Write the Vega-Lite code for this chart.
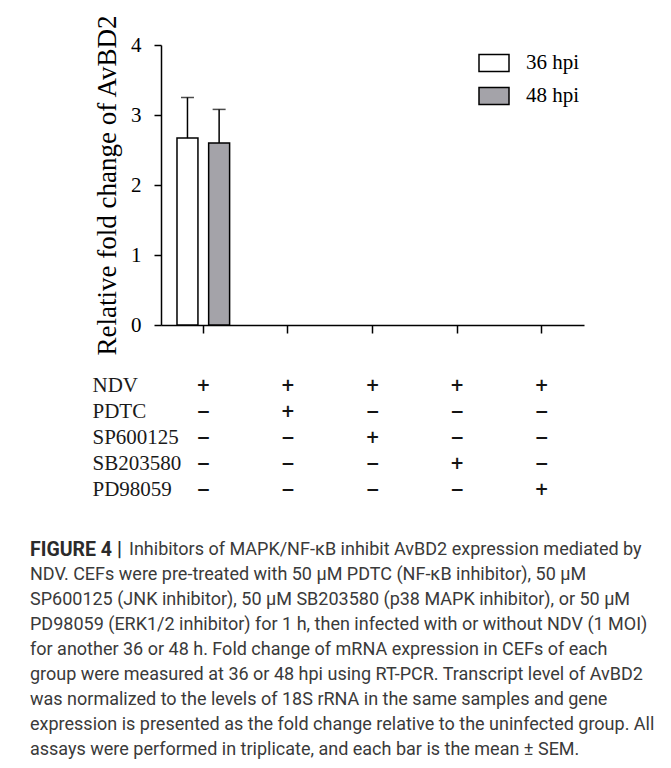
{
  "$schema": "https://vega.github.io/schema/vega-lite/v6.json",
  "padding": {"left": 30, "top": 0, "right": 0, "bottom": 0},
  "spacing": 0,
  "background": "white",
  "config": {"view": {"stroke": null}},
  "resolve": {"scale": {"fill": "independent", "x": "independent", "y": "independent"}, "legend": {"fill": "independent"}},
  "datasets": {
    "bars": [
      {"group": "NDV", "time": "36 hpi", "mean": 2.67, "upper": 3.25},
      {"group": "NDV", "time": "48 hpi", "mean": 2.60, "upper": 3.08},
      {"group": "NDV+PDTC", "time": "36 hpi", "mean": 0, "upper": null},
      {"group": "NDV+PDTC", "time": "48 hpi", "mean": 0, "upper": null},
      {"group": "NDV+SP600125", "time": "36 hpi", "mean": 0, "upper": null},
      {"group": "NDV+SP600125", "time": "48 hpi", "mean": 0, "upper": null},
      {"group": "NDV+SB203580", "time": "36 hpi", "mean": 0, "upper": null},
      {"group": "NDV+SB203580", "time": "48 hpi", "mean": 0, "upper": null},
      {"group": "NDV+PD98059", "time": "36 hpi", "mean": 0, "upper": null},
      {"group": "NDV+PD98059", "time": "48 hpi", "mean": 0, "upper": null}
    ],
    "table": [
      {"agent": "NDV", "group": "NDV", "sign": "+"},
      {"agent": "NDV", "group": "NDV+PDTC", "sign": "+"},
      {"agent": "NDV", "group": "NDV+SP600125", "sign": "+"},
      {"agent": "NDV", "group": "NDV+SB203580", "sign": "+"},
      {"agent": "NDV", "group": "NDV+PD98059", "sign": "+"},
      {"agent": "PDTC", "group": "NDV", "sign": "−"},
      {"agent": "PDTC", "group": "NDV+PDTC", "sign": "+"},
      {"agent": "PDTC", "group": "NDV+SP600125", "sign": "−"},
      {"agent": "PDTC", "group": "NDV+SB203580", "sign": "−"},
      {"agent": "PDTC", "group": "NDV+PD98059", "sign": "−"},
      {"agent": "SP600125", "group": "NDV", "sign": "−"},
      {"agent": "SP600125", "group": "NDV+PDTC", "sign": "−"},
      {"agent": "SP600125", "group": "NDV+SP600125", "sign": "+"},
      {"agent": "SP600125", "group": "NDV+SB203580", "sign": "−"},
      {"agent": "SP600125", "group": "NDV+PD98059", "sign": "−"},
      {"agent": "SB203580", "group": "NDV", "sign": "−"},
      {"agent": "SB203580", "group": "NDV+PDTC", "sign": "−"},
      {"agent": "SB203580", "group": "NDV+SP600125", "sign": "−"},
      {"agent": "SB203580", "group": "NDV+SB203580", "sign": "+"},
      {"agent": "SB203580", "group": "NDV+PD98059", "sign": "−"},
      {"agent": "PD98059", "group": "NDV", "sign": "−"},
      {"agent": "PD98059", "group": "NDV+PDTC", "sign": "−"},
      {"agent": "PD98059", "group": "NDV+SP600125", "sign": "−"},
      {"agent": "PD98059", "group": "NDV+SB203580", "sign": "−"},
      {"agent": "PD98059", "group": "NDV+PD98059", "sign": "+"}
    ],
    "caption": [
      {"line": 1, "part": "label", "text": "FIGURE 4 |"},
      {"line": 1, "part": "head", "text": "Inhibitors of MAPK/NF-κB inhibit AvBD2 expression mediated by"},
      {"line": 2, "part": "body", "text": "NDV. CEFs were pre-treated with 50 μM PDTC (NF-κB inhibitor), 50 μM"},
      {"line": 3, "part": "body", "text": "SP600125 (JNK inhibitor), 50 μM SB203580 (p38 MAPK inhibitor), or 50 μM"},
      {"line": 4, "part": "body", "text": "PD98059 (ERK1/2 inhibitor) for 1 h, then infected with or without NDV (1 MOI)"},
      {"line": 5, "part": "body", "text": "for another 36 or 48 h. Fold change of mRNA expression in CEFs of each"},
      {"line": 6, "part": "body", "text": "group were measured at 36 or 48 hpi using RT-PCR. Transcript level of AvBD2"},
      {"line": 7, "part": "body", "text": "was normalized to the levels of 18S rRNA in the same samples and gene"},
      {"line": 8, "part": "body", "text": "expression is presented as the fold change relative to the uninfected group. All"},
      {"line": 9, "part": "body", "text": "assays were performed in triplicate, and each bar is the mean ± SEM."}
    ]
  },
  "vconcat": [
    {
      "width": 423,
      "height": 280,
      "data": {"name": "bars"},
      "encoding": {
        "x": {
          "field": "group", "type": "nominal",
          "scale": {"domain": ["NDV", "NDV+PDTC", "NDV+SP600125", "NDV+SB203580", "NDV+PD98059"], "paddingInner": 0, "paddingOuter": 0},
          "axis": {"labels": false, "title": null, "ticks": true, "tickSize": 8, "tickWidth": 1.5, "tickColor": "black", "domainColor": "black", "domainWidth": 1.5, "grid": false}
        },
        "xOffset": {"field": "time", "type": "nominal", "scale": {"domain": ["36 hpi", "48 hpi"], "paddingInner": 0.338, "paddingOuter": 0.505}}
      },
      "layer": [
        {
          "transform": [{"filter": "datum.mean > 0"}],
          "mark": {"type": "bar", "stroke": "black", "strokeWidth": 1.5},
          "encoding": {
            "y": {
              "field": "mean", "type": "quantitative",
              "scale": {"domain": [0, 4]},
              "axis": {
                "values": [0, 1, 2, 3, 4], "format": "d", "grid": false, "tickSize": 7, "tickWidth": 1.5, "tickColor": "black",
                "domainColor": "black", "domainWidth": 1.5,
                "labelFont": "Liberation Serif", "labelFontSize": 21, "labelColor": "black", "labelPadding": 13,
                "title": "Relative  fold  change  of  AvBD2", "titleFont": "Liberation Serif", "titleFontSize": 27,
                "titleFontWeight": "normal", "titleColor": "black", "titlePadding": 9
              }
            },
            "fill": {
              "field": "time", "type": "nominal",
              "scale": {"domain": ["36 hpi", "48 hpi"], "range": ["#ffffff", "#a4a3a9"]},
              "legend": {
                "orient": "none", "legendX": 317, "legendY": 2, "direction": "vertical", "title": null, "padding": 0,
                "symbolType": "M-1,-0.567H1V0.567H-1Z", "symbolSize": 900, "symbolStrokeColor": "black", "symbolStrokeWidth": 1.5,
                "symbolOpacity": 1, "labelFont": "Liberation Serif", "labelFontSize": 21, "labelColor": "black",
                "labelOffset": 16, "rowPadding": 5
              }
            }
          }
        },
        {
          "transform": [{"filter": "datum.upper != null"}],
          "mark": {"type": "rule", "color": "black", "strokeWidth": 1.5},
          "encoding": {
            "y": {"field": "mean", "type": "quantitative"},
            "y2": {"field": "upper"}
          }
        },
        {
          "transform": [{"filter": "datum.upper != null"}],
          "mark": {"type": "tick", "color": "black", "thickness": 1.5, "size": 13},
          "encoding": {
            "y": {"field": "upper", "type": "quantitative"}
          }
        }
      ]
    },
    {
      "width": 423,
      "height": 119.6,
      "data": {"name": "table"},
      "mark": {"type": "text", "font": "DejaVu Sans", "fontSize": 17, "fontWeight": "bold", "color": "#141414"},
      "encoding": {
        "x": {"field": "group", "type": "nominal", "scale": {"domain": ["NDV", "NDV+PDTC", "NDV+SP600125", "NDV+SB203580", "NDV+PD98059"], "paddingInner": 0, "paddingOuter": 0}, "axis": null},
        "y": {
          "field": "agent", "type": "nominal", "sort": ["NDV", "PDTC", "SP600125", "SB203580", "PD98059"],
          "scale": {"type": "point", "padding": 0.3, "align": 1},
          "axis": {"domain": false, "ticks": false, "tickSize": 0, "labelAlign": "left", "labelPadding": 69,
                   "labelFont": "Liberation Serif", "labelFontSize": 21, "labelColor": "#1a1a1a", "title": null, "labelLimit": 0}
        },
        "text": {"field": "sign"}
      }
    },
    {
      "width": 423,
      "height": 250,
      "data": {"name": "caption"},
      "encoding": {
        "y": {"field": "line", "type": "ordinal", "scale": {"type": "point", "padding": 1.0, "align": 1}, "axis": null},
        "x": {"value": 0},
        "text": {"field": "text"}
      },
      "layer": [
        {
          "transform": [{"filter": "datum.part == 'label'"}],
          "mark": {"type": "text", "align": "left", "dx": -131, "font": "Roboto", "fontSize": 19.5, "fontWeight": "bold", "color": "#2b2b2b"}
        },
        {
          "transform": [{"filter": "datum.part == 'head'"}],
          "mark": {"type": "text", "align": "left", "dx": -32, "font": "Roboto", "fontSize": 18, "color": "#3a3a3a"}
        },
        {
          "transform": [{"filter": "datum.part == 'body'"}],
          "mark": {"type": "text", "align": "left", "dx": -131, "font": "Roboto", "fontSize": 18, "color": "#3a3a3a"}
        }
      ]
    }
  ]
}
